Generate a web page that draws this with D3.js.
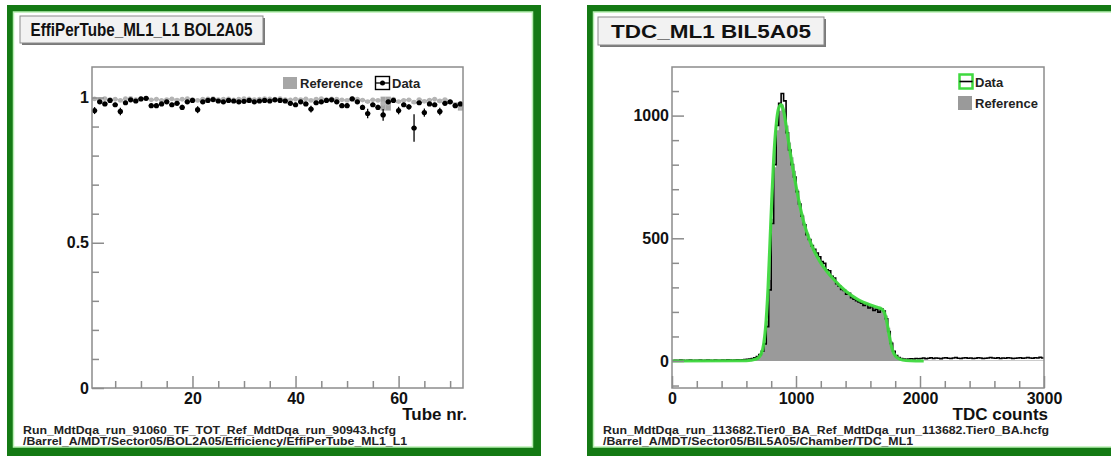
<!DOCTYPE html>
<html>
<head>
<meta charset="utf-8">
<script src="https://cdn.jsdelivr.net/npm/d3@7"></script>
<style>
body { margin: 0; background: #fff; }
text { font-family: "Liberation Sans", Arial, Helvetica, sans-serif; }
</style>
</head>
<body>
<div id="chart"></div>
<script>
// ---- left panel: efficiency per tube ----
const tubes = d3.range(1, 73);
const effData = [
  0.955, 0.985, 0.978, 0.990, 0.975, 0.952, 0.982, 0.992, 0.988, 0.995,
  0.997, 0.972, 0.972, 0.978, 0.985, 0.975, 0.980, 0.966, 0.985, 0.990,
  0.958, 0.985, 0.990, 0.993, 0.988, 0.985, 0.990, 0.988, 0.985, 0.987,
  0.990, 0.985, 0.988, 0.990, 0.988, 0.992, 0.990, 0.988, 0.980, 0.975,
  0.985, 0.978, 0.960, 0.982, 0.985, 0.990, 0.992, 0.985, 0.972, 0.972,
  0.995, 0.985, 0.966, 0.945, 0.975, 0.966, 0.940, 0.985, 0.990, 0.955,
  0.975, 0.968, 0.895, 0.982, 0.948, 0.978, 0.975, 0.952, 0.980, 0.985,
  0.972, 0.978
];
const effDataErr = [
  0.012, 0.005, 0.006, 0.004, 0.007, 0.013, 0.005, 0.004, 0.005, 0.003,
  0.003, 0.007, 0.007, 0.006, 0.005, 0.007, 0.006, 0.009, 0.005, 0.004,
  0.012, 0.005, 0.004, 0.003, 0.004, 0.005, 0.004, 0.004, 0.005, 0.004,
  0.004, 0.005, 0.004, 0.004, 0.004, 0.003, 0.004, 0.004, 0.006, 0.007,
  0.005, 0.006, 0.012, 0.005, 0.005, 0.004, 0.003, 0.005, 0.008, 0.008,
  0.003, 0.005, 0.009, 0.016, 0.007, 0.009, 0.020, 0.005, 0.004, 0.013,
  0.007, 0.009, 0.047, 0.006, 0.014, 0.006, 0.007, 0.013, 0.006, 0.005,
  0.008, 0.006
];
const effRef = [
  0.995, 0.992, 0.996, 0.993, 0.994, 0.990, 0.996, 0.997, 0.993, 0.995,
  0.996, 0.992, 0.994, 0.990, 0.993, 0.995, 0.991, 0.994, 0.996, 0.993,
  0.990, 0.994, 0.995, 0.996, 0.993, 0.994, 0.995, 0.992, 0.994, 0.996,
  0.995, 0.993, 0.994, 0.996, 0.995, 0.994, 0.996, 0.993, 0.992, 0.994,
  0.993, 0.995, 0.990, 0.994, 0.996, 0.993, 0.995, 0.994, 0.992, 0.990,
  0.996, 0.994, 0.991, 0.986, 0.992, 0.990, 0.979, 0.979, 0.994, 0.986,
  0.990, 0.992, 0.984, 0.993, 0.987, 0.991, 0.994, 0.988, 0.993, 0.985,
  0.975, 0.965
];
const effRefErr = [
  0.003, 0.003, 0.003, 0.003, 0.003, 0.004, 0.003, 0.002, 0.003, 0.003,
  0.003, 0.003, 0.003, 0.004, 0.003, 0.003, 0.004, 0.003, 0.003, 0.003,
  0.004, 0.003, 0.003, 0.003, 0.003, 0.003, 0.003, 0.003, 0.003, 0.003,
  0.003, 0.003, 0.003, 0.003, 0.003, 0.003, 0.003, 0.003, 0.003, 0.003,
  0.003, 0.003, 0.004, 0.003, 0.003, 0.003, 0.003, 0.003, 0.003, 0.004,
  0.003, 0.003, 0.004, 0.005, 0.003, 0.004, 0.024, 0.024, 0.003, 0.005,
  0.004, 0.003, 0.005, 0.003, 0.005, 0.004, 0.003, 0.005, 0.003, 0.005,
  0.008, 0.010
];
const effXMajor = [20, 40, 60];
const effXMinor = [5, 10, 15, 25, 30, 35, 45, 50, 55, 65, 70];
const effYMajor = [0, 0.5, 1];
const effYMinor = [0.1, 0.2, 0.3, 0.4, 0.6, 0.7, 0.8, 0.9];

// ---- right panel: TDC spectrum, bins of 20 counts ----
const tdcBinLow = d3.range(0, 3000, 20);
const tdcData = [
  2, 3, 2, 4, 3, 2, 3, 4, 2, 3, 3, 4, 2, 3, 4, 3, 2, 4, 3, 3, 4, 3, 5, 4, 3, 4, 5, 4, 5, 6,
  7, 8, 10, 13, 18, 26, 40, 70, 140, 290,
  560, 800, 960, 1050, 1090, 1060, 930, 860, 800, 750,
  690, 640, 590, 555, 515, 495, 470, 455, 440, 425,
  405, 398, 372, 368, 345, 338, 315, 305, 292, 288,
  272, 276, 258, 252, 246, 241, 236, 226, 231, 216,
  221, 206, 211, 199, 213, 204, 172, 120, 72, 40,
  22, 14, 10, 8, 7, 8, 9, 8, 10, 9,
  10, 12, 9, 11, 13, 10, 12, 11, 9, 12, 13, 11, 10, 12, 14, 11, 10, 12, 13, 11,
  12, 10, 11, 13, 12, 10, 11, 12, 14, 12, 11, 13, 10, 12, 11, 13, 12, 10, 11, 12,
  13, 11, 12, 14, 12, 11, 13, 12, 15, 12
];
const tdcRef = [
  1, 1, 1, 1, 1, 1, 1, 1, 1, 1, 1, 1, 1, 1, 1, 1, 1, 1, 1, 1, 1, 1, 1, 1, 1, 2, 2, 2, 2, 2,
  3, 4, 6, 9, 14, 22, 36, 75, 165, 330,
  580, 790, 940, 1020, 1045, 1020, 960, 890, 830, 775,
  700, 650, 600, 560, 525, 495, 470, 450, 430, 410,
  398, 385, 370, 355, 345, 335, 320, 310, 300, 292,
  280, 272, 265, 258, 250, 245, 240, 235, 230, 226,
  222, 218, 215, 212, 210, 205, 185, 135, 80, 40,
  18, 8, 4, 3, 2, 2, 2, 2, 2, 2,
  2, 2, 2, 2, 2, 2, 2, 2, 2, 2, 2, 2, 2, 2, 2, 2, 2, 2, 2, 2,
  2, 2, 2, 2, 2, 2, 2, 2, 2, 2, 2, 2, 2, 2, 2, 2, 2, 2, 2, 2,
  2, 2, 2, 2, 2, 2, 2, 2, 2, 2
];
// smooth curve drawn over the data
const fitTdc = [0, 600, 680, 720, 740, 760, 775, 790, 805, 820, 840, 860, 880, 900, 920, 950, 980, 1020, 1060, 1100,
  1150, 1200, 1250, 1300, 1400, 1500, 1600, 1660, 1690, 1710, 1730, 1750, 1770, 1790, 1820, 1860, 1920, 2030];
const fitVal = [0, 1, 8, 30, 70, 170, 300, 480, 660, 820, 960, 1030, 1045, 1020, 960, 860, 770, 660, 570, 505,
  445, 400, 365, 335, 285, 250, 228, 218, 212, 200, 165, 110, 60, 30, 12, 4, 1, 0];
const tdcXMajor = [0, 1000, 2000, 3000];
const tdcXMinor = [200, 400, 600, 800, 1200, 1400, 1600, 1800, 2200, 2400, 2600, 2800];
const tdcYMajor = [0, 500, 1000];
const tdcYMinor = [-100, 100, 200, 300, 400, 600, 700, 800, 900, 1100];

const BORDER = "#147a14";
const FRAME = "#8c8c8c";
const REF_GRAY = "#a6a6a6";

let svg = d3.select("#chart").append("svg").attr("width", 1111).attr("height", 456);

function makePanel(x0, title, titleBox, titleLen, foot1, foot1Len, foot2, foot2Len) {
    let g = svg.append("g").attr("transform", "translate(" + x0 + ",0)");
    g.append("rect").attr("x", 0).attr("y", 5).attr("width", 534).attr("height", 452).attr("fill", BORDER);
    g.append("rect").attr("x", 6.5).attr("y", 12).attr("width", 519).attr("height", 435)
        .attr("fill", "#fff").attr("stroke", "#b8efb2").attr("stroke-width", 1.5);

    // title pave with shadow
    g.append("rect").attr("x", titleBox[0] + 2).attr("y", titleBox[1] + 2).attr("width", titleBox[2]).attr("height", titleBox[3]).attr("fill", "#7a7a7a");
    g.append("rect").attr("x", titleBox[0]).attr("y", titleBox[1]).attr("width", titleBox[2]).attr("height", titleBox[3])
        .attr("fill", "#f2f2f2").attr("stroke", "#8a8a8a").attr("stroke-width", 1);
    g.append("text").attr("x", titleBox[0] + titleBox[2] / 2).attr("y", titleBox[1] + titleBox[3] - 7)
        .attr("text-anchor", "middle").attr("font-weight", "bold").attr("font-size", "19px").attr("fill", "#111")
        .attr("textLength", titleLen).attr("lengthAdjust", "spacingAndGlyphs").text(title);

    g.append("text").attr("x", 16).attr("y", 434).attr("font-size", "11.5px").attr("font-weight", "bold").attr("fill", "#222")
        .attr("textLength", foot1Len).attr("lengthAdjust", "spacingAndGlyphs").text(foot1);
    g.append("text").attr("x", 16).attr("y", 445).attr("font-size", "11.5px").attr("font-weight", "bold").attr("fill", "#222")
        .attr("textLength", foot2Len).attr("lengthAdjust", "spacingAndGlyphs").text(foot2);
    return g;
}

function drawAxes(g, x, y, xMajor, xMinor, yMajor, yMinor, xTitle) {
    let b = y.range()[0], t = y.range()[1], l = x.range()[0], r = x.range()[1];
    g.append("g").attr("transform", "translate(0," + b + ")")
        .call(d3.axisBottom(x).tickValues(xMinor).tickSize(-7).tickFormat(""));
    g.append("g").attr("transform", "translate(0," + b + ")")
        .call(d3.axisBottom(x).tickValues(xMajor).tickSize(-12).tickPadding(5).tickFormat(d3.format("")));
    g.append("g").attr("transform", "translate(" + l + ",0)")
        .call(d3.axisLeft(y).tickValues(yMinor).tickSize(-7).tickFormat(""));
    g.append("g").attr("transform", "translate(" + l + ",0)")
        .call(d3.axisLeft(y).tickValues(yMajor).tickSize(-12).tickPadding(3).tickFormat(d3.format("")));
    g.selectAll(".domain").remove();
    g.selectAll(".tick line").attr("stroke", FRAME).attr("stroke-width", 1.5);
    g.selectAll(".tick text").attr("font-family", "Liberation Sans, Arial, sans-serif")
        .attr("font-size", "16px").attr("font-weight", "bold").attr("fill", "#111");
    g.append("rect").attr("x", l).attr("y", t).attr("width", r - l).attr("height", b - t)
        .attr("fill", "none").attr("stroke", FRAME).attr("stroke-width", 1.5);
    g.append("text").attr("x", r + 4).attr("y", b + 32).attr("text-anchor", "end")
        .attr("font-size", "17px").attr("font-weight", "bold").attr("fill", "#111").text(xTitle);
}

// ================= left panel =================
let gl = makePanel(7, "EffiPerTube_ML1_L1 BOL2A05", [13, 16, 243, 27], 222,
    "Run_MdtDqa_run_91060_TF_TOT_Ref_MdtDqa_run_90943.hcfg", 373,
    "/Barrel_A/MDT/Sector05/BOL2A05/Efficiency/EffiPerTube_ML1_L1", 384);

let xE = d3.scaleLinear().domain([0.5, 72.5]).range([85, 456]);
let yE = d3.scaleLinear().domain([0, 1.105]).range([388, 67]);
let bw = xE(1) - xE(0);

// reference: grey error boxes + grey markers
gl.append("g").selectAll("rect").data(tubes).join("rect")
    .attr("x", d => xE(d - 0.5)).attr("width", bw)
    .attr("y", (d, i) => yE(effRef[i] + effRefErr[i]))
    .attr("height", (d, i) => yE(effRef[i] - effRefErr[i]) - yE(effRef[i] + effRefErr[i]))
    .attr("fill", REF_GRAY);
gl.append("g").selectAll("circle").data(tubes).join("circle")
    .attr("cx", d => xE(d)).attr("cy", (d, i) => yE(effRef[i])).attr("r", 2.4).attr("fill", "#b4b4b4");

// data: error bars + markers
let gd = gl.append("g").attr("stroke", "#000").attr("stroke-width", 1.3);
gd.selectAll("line.v").data(tubes).join("line").attr("class", "v")
    .attr("x1", d => xE(d)).attr("x2", d => xE(d))
    .attr("y1", (d, i) => yE(effData[i] + effDataErr[i])).attr("y2", (d, i) => yE(effData[i] - effDataErr[i]));
gd.selectAll("line.h").data(tubes).join("line").attr("class", "h")
    .attr("x1", d => xE(d - 0.5)).attr("x2", d => xE(d + 0.5))
    .attr("y1", (d, i) => yE(effData[i])).attr("y2", (d, i) => yE(effData[i]));
gl.append("g").selectAll("circle").data(tubes).join("circle")
    .attr("cx", d => xE(d)).attr("cy", (d, i) => yE(effData[i])).attr("r", 2.6).attr("fill", "#000");

drawAxes(gl, xE, yE, effXMajor, effXMinor, effYMajor, effYMinor, "Tube nr.");

// legend
let lgL = gl.append("g");
lgL.append("rect").attr("x", 276).attr("y", 77).attr("width", 14).attr("height", 12).attr("fill", REF_GRAY);
lgL.append("text").attr("x", 293).attr("y", 88).attr("font-size", "13px").attr("font-weight", "bold").attr("fill", "#222").text("Reference");
lgL.append("rect").attr("x", 368.5).attr("y", 76.5).attr("width", 14).attr("height", 13).attr("fill", "none").attr("stroke", "#000").attr("stroke-width", 1.4);
lgL.append("line").attr("x1", 368.5).attr("x2", 382.5).attr("y1", 83).attr("y2", 83).attr("stroke", "#000").attr("stroke-width", 1.3);
lgL.append("circle").attr("cx", 375.5).attr("cy", 83).attr("r", 2.5).attr("fill", "#000");
lgL.append("text").attr("x", 385).attr("y", 88).attr("font-size", "13px").attr("font-weight", "bold").attr("fill", "#222").text("Data");

// ================= right panel =================
let gr = makePanel(587, "TDC_ML1 BIL5A05", [11, 17, 226, 28], 200,
    "Run_MdtDqa_run_113682.Tier0_BA_Ref_MdtDqa_run_113682.Tier0_BA.hcfg", 446,
    "/Barrel_A/MDT/Sector05/BIL5A05/Chamber/TDC_ML1", 310);

let xT = d3.scaleLinear().domain([0, 3000]).range([85, 457]);
let yT = d3.scaleLinear().domain([-110, 1198]).range([388, 67]);

let refPts = tdcBinLow.map((lo, i) => [lo, tdcRef[i]]);
refPts.push([3000, tdcRef[tdcRef.length - 1]]);
let dataPts = tdcBinLow.map((lo, i) => [lo, tdcData[i]]);
dataPts.push([3000, tdcData[tdcData.length - 1]]);

gr.append("path").datum(refPts)
    .attr("d", d3.area().curve(d3.curveStepAfter).x(d => xT(d[0])).y0(yT(0)).y1(d => yT(d[1])))
    .attr("fill", "#9a9a9a");
gr.append("path").datum(dataPts)
    .attr("d", d3.line().curve(d3.curveStepAfter).x(d => xT(d[0])).y(d => yT(d[1])))
    .attr("fill", "none").attr("stroke", "#000").attr("stroke-width", 1.6);
gr.append("path").datum(fitTdc.map((t, i) => [t, fitVal[i]]))
    .attr("d", d3.line().curve(d3.curveMonotoneX).x(d => xT(d[0])).y(d => yT(d[1])))
    .attr("fill", "none").attr("stroke", "#3fd93f").attr("stroke-width", 3.2).attr("stroke-opacity", 0.95);

drawAxes(gr, xT, yT, tdcXMajor, tdcXMinor, tdcYMajor, tdcYMinor, "TDC counts");

let lgR = gr.append("g");
lgR.append("rect").attr("x", 372.5).attr("y", 74.5).attr("width", 13).attr("height", 14).attr("fill", "#fff")
    .attr("stroke", "#3fd93f").attr("stroke-width", 2.5);
lgR.append("line").attr("x1", 372.5).attr("x2", 385.5).attr("y1", 81.5).attr("y2", 81.5).attr("stroke", "#000").attr("stroke-width", 1.6);
lgR.append("text").attr("x", 388).attr("y", 87).attr("font-size", "13px").attr("font-weight", "bold").attr("fill", "#222").text("Data");
lgR.append("rect").attr("x", 371).attr("y", 96).attr("width", 14).attr("height", 14).attr("fill", "#9a9a9a");
lgR.append("text").attr("x", 388).attr("y", 108).attr("font-size", "13px").attr("font-weight", "bold").attr("fill", "#222").text("Reference");
</script>
</body>
</html>
